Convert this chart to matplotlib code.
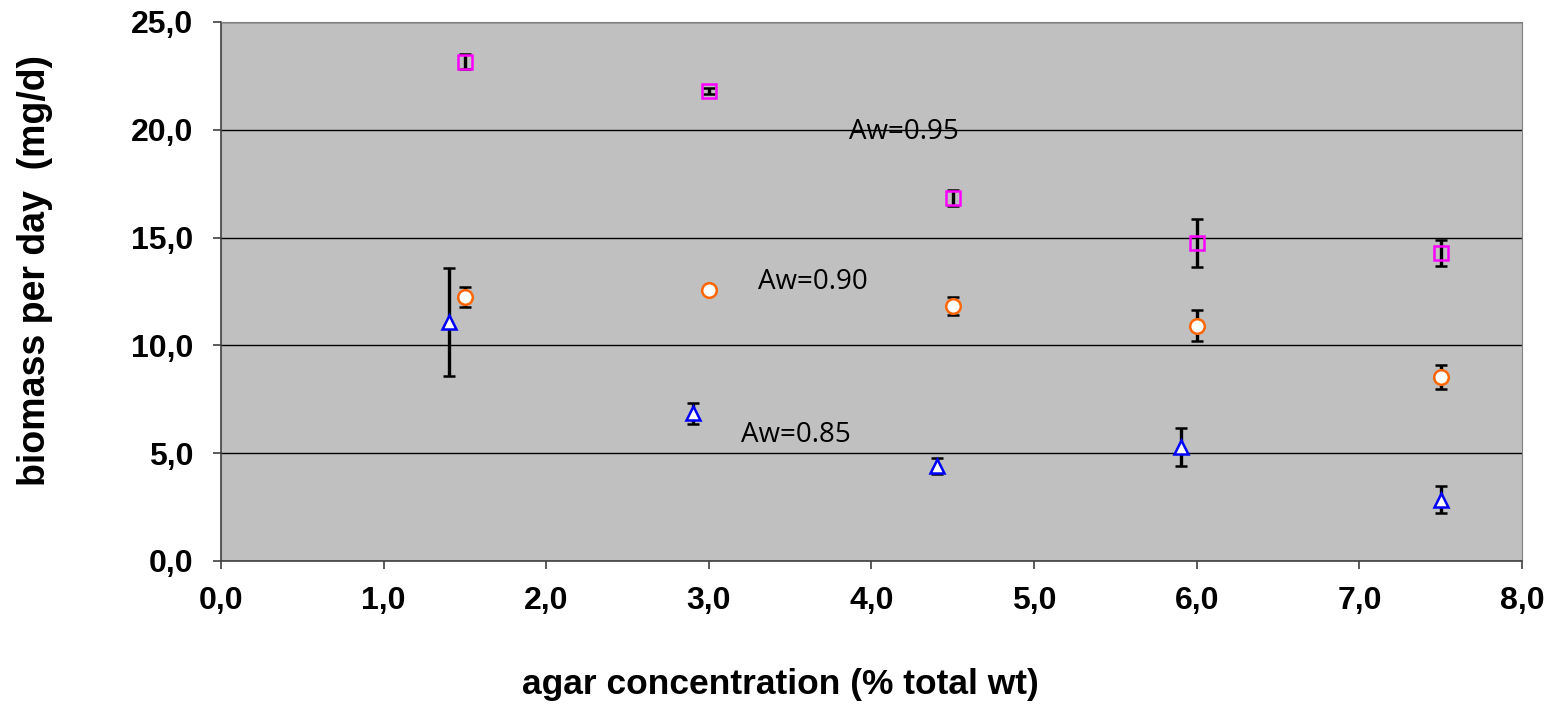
import matplotlib.pyplot as plt
from matplotlib.ticker import FuncFormatter

# Aw=0.95 (squares)
x95 = [1.5, 3.0, 4.5, 6.0, 7.5]
y95 = [23.15, 21.8, 16.85, 14.75, 14.3]
e95 = [0.35, 0.15, 0.37, 1.13, 0.6]

# Aw=0.90 (circles)
x90 = [1.5, 3.0, 4.5, 6.0, 7.5]
y90 = [12.25, 12.57, 11.83, 10.9, 8.53]
e90 = [0.45, 0.0, 0.42, 0.72, 0.56]

# Aw=0.85 (triangles)
x85 = [1.4, 2.9, 4.4, 5.9, 7.5]
y85 = [11.1, 6.85, 4.4, 5.3, 2.85]
e85 = [2.5, 0.49, 0.37, 0.88, 0.62]

labels = ['Aw=0.95', 'Aw=0.90', 'Aw=0.85']
label_pos = [(3.86, 19.9), (3.3, 12.94), (3.2, 5.84)]

comma = FuncFormatter(lambda v, p: f'{v:.1f}'.replace('.', ','))

fig = plt.figure(figsize=(15.55, 7.05), dpi=100)
ax = fig.add_axes([0.1421, 0.2043, 0.8367, 0.7645])
ax.set_facecolor('#c0c0c0')

err_kw = dict(ecolor='black', elinewidth=2.4, capsize=4.3, capthick=2.4, linestyle='none', zorder=3)
ax.errorbar(x95, y95, yerr=e95, marker='s', ms=10.5, mfc='none', mec='#ff00ff', mew=1.8, **err_kw)
ax.errorbar(x90, y90, yerr=e90, marker='o', ms=10.5, mfc='white', mec='#ff6600', mew=1.8, **err_kw)
ax.errorbar(x85, y85, yerr=e85, marker='^', ms=10.5, mfc='white', mec='#0000ff', mew=1.8, **err_kw)

for lab, (lx, ly) in zip(labels, label_pos):
    ax.text(lx, ly, lab, fontsize=20, family='Open Sans', va='center', ha='left')

ax.set_xlim(0, 8)
ax.set_ylim(0, 25)
ax.set_xticks(range(0, 9))
ax.set_yticks(range(0, 26, 5))
ax.xaxis.set_major_formatter(comma)
ax.yaxis.set_major_formatter(comma)
ax.grid(axis='y', color='black', linewidth=1)
ax.set_axisbelow(True)

for s in ['top', 'right']:
    ax.spines[s].set_color('#808080')
for s in ['left', 'bottom']:
    ax.spines[s].set_color('#404040')
    ax.spines[s].set_linewidth(1.2)

ax.tick_params(length=6, width=1.2, color='#404040', labelsize=23)
ax.tick_params(axis='y', pad=14)
ax.tick_params(axis='x', pad=12)
for t in ax.get_xticklabels() + ax.get_yticklabels():
    t.set_fontweight('bold')
    t.set_family('Liberation Sans')

fig.text(0.5016, 0.0284, 'agar concentration (% total wt)', fontsize=25.5,
         fontweight='bold', family='Liberation Sans', ha='center', va='center')
fig.text(0.0225, 0.617, 'biomass per day  (mg/d)', fontsize=27, fontweight='bold',
         family='Liberation Sans', ha='center', va='center', rotation=90)

fig.savefig('out.png', dpi=100)
